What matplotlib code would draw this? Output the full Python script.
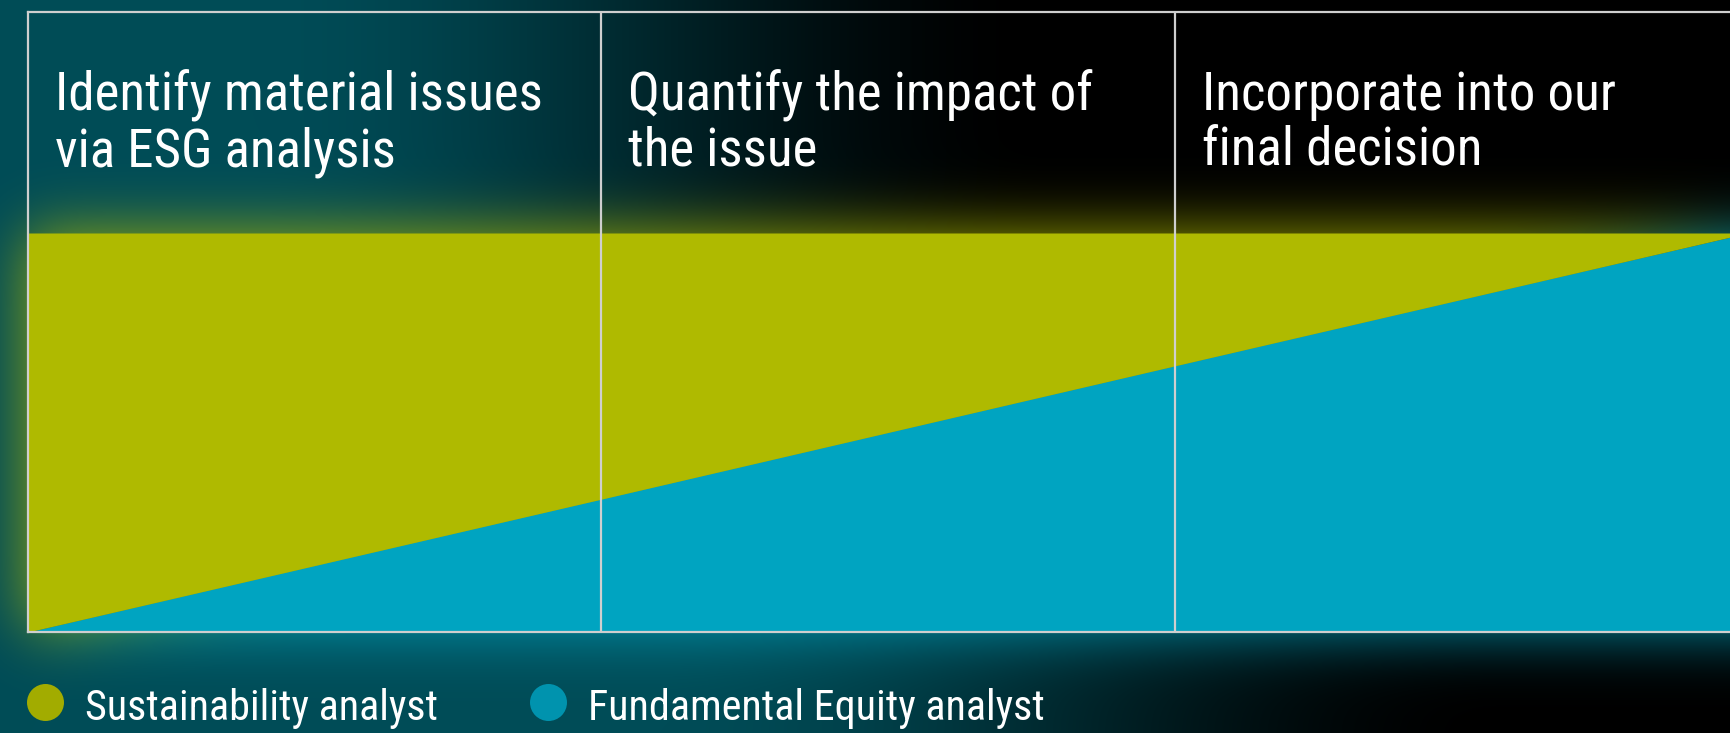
import numpy as np
import matplotlib
matplotlib.use("Agg")
from matplotlib import pyplot as plt
from matplotlib import font_manager as fm
from matplotlib import transforms

# chart content
stages = [
    "Identify material issues\nvia ESG analysis",
    "Quantify the impact of\nthe issue",
    "Incorporate into our\nfinal decision",
]
stage_edges = [0, 1, 2, 3]
fundamental_share = [0, 33.3, 66.7, 100]
sustainability_share = [100, 66.7, 33.3, 0]
series_labels = ["Sustainability analyst", "Fundamental Equity analyst"]

YELLOW = "#AFBA00"
BLUE = "#00A4C1"
LINE = "#CFCFCF"

W, H, DPI = 1731, 733, 100


def pick_font():
    entries = fm.fontManager.ttflist
    names = {f.name for f in entries}
    if "Roboto Condensed" in names:
        return dict(family="Roboto Condensed")
    if "Liberation Sans Narrow" in names:
        return dict(family="Liberation Sans Narrow")
    if any(f.name == "DejaVu Sans" and "condensed" in str(f.stretch) for f in entries):
        return dict(family="DejaVu Sans", stretch="condensed")
    return dict(family="Roboto")


def smoothstep(v, a, b):
    t = np.clip((v - a) / (b - a), 0, 1)
    return t * t * (3 - 2 * t)


def blur(img, sigma):
    pad = int(3 * sigma)
    p = np.pad(img, pad, mode="edge")
    fy = np.fft.fftfreq(p.shape[0])
    fx = np.fft.rfftfreq(p.shape[1])
    g = np.exp(-2 * (np.pi * sigma) ** 2 * (fy[:, None] ** 2 + fx[None, :] ** 2))
    out = np.fft.irfft2(np.fft.rfft2(p) * g, s=p.shape)
    return out[pad:-pad, pad:-pad]


def fit_size(fig, txt, target_px, size):
    r = fig.canvas.get_renderer()
    w = txt.get_window_extent(r).width
    return size * target_px / w


font = pick_font()

fig = plt.figure(figsize=(W / DPI, H / DPI), dpi=DPI, facecolor="black")
bg_ax = fig.add_axes([0, 0, 1, 1], zorder=0)
bg_ax.set_xlim(0, W)
bg_ax.set_ylim(H, 0)
bg_ax.axis("off")

# plot box: left 28px, top 12px, bottom 632px, runs past the right edge
ax = fig.add_axes([28 / W, (H - 632) / H, (1748 - 28) / W, 620 / H], zorder=1)
ax.set_facecolor("none")
ax.set_xlim(stage_edges[0], stage_edges[-1])
ax.set_ylim(0, 100 * 620 / 399)

top_share = np.add(fundamental_share, sustainability_share)
ax.fill_between(stage_edges, 0, fundamental_share, color=BLUE, lw=0, zorder=1)
ax.fill_between(stage_edges, fundamental_share, top_share, color=YELLOW, lw=0, zorder=1)
for x in stage_edges[1:-1]:
    ax.axvline(x, color=LINE, lw=1.6, zorder=3)
for side in ["left", "top", "bottom"]:
    ax.spines[side].set_color(LINE)
    ax.spines[side].set_linewidth(1.6)
    ax.spines[side].set_zorder(4)
ax.spines["right"].set_visible(False)
ax.set_xticks([])
ax.set_yticks([])

# background with glow around the filled shape
X, Y = np.meshgrid(np.arange(W) + 0.5, np.arange(H) + 0.5)
w_top = 1 - smoothstep(X, 250, 1050)
w_bot = 1 - smoothstep(X, 650, 1500)
s = smoothstep(Y, 200, 680)
w = w_top * (1 - s) + w_bot * s
bg = w[..., None] * (np.array([0, 76, 87]) / 255)

pts = np.column_stack([X.ravel(), H - Y.ravel()])
xd, yd = ax.transData.inverted().transform(pts).T
xd = xd.reshape(X.shape)
yd = yd.reshape(X.shape)
f_line = np.interp(xd, stage_edges, fundamental_share)
t_line = np.interp(xd, stage_edges, top_share)
inside = (xd >= stage_edges[0]) & (yd >= 0)
blue_m = (inside & (yd <= f_line)).astype(float)
yel_m = (inside & (yd > f_line) & (yd <= t_line)).astype(float)
a_y = np.clip(blur(yel_m, 30), 0, 1) * 0.85
a_b = np.clip(blur(blue_m, 30), 0, 1) * 0.85
yc = np.array(matplotlib.colors.to_rgb(YELLOW))
bc = np.array(matplotlib.colors.to_rgb(BLUE))
rgb = bg * (1 - a_y - a_b)[..., None] + yc * a_y[..., None] + bc * a_b[..., None]
bg_ax.imshow(np.clip(rgb, 0, 1), extent=(0, W, H, 0), aspect="auto", zorder=0)

# column headers
hdr_tr = transforms.blended_transform_factory(ax.transData, ax.transAxes)
size = 38
probe = ax.text(0, 0, stages[0].split("\n")[0], fontsize=size, **font)
size = fit_size(fig, probe, 488, size)
probe.remove()
for i, label in enumerate(stages):
    for j, line in enumerate(label.split("\n")):
        ax.text(stage_edges[i] + 0.047, (632 - (110 + 56 * j)) / 620, line,
                transform=hdr_tr, color="white", fontsize=size,
                va="baseline", ha="left", **font)

# legend
leg_x = [45, 548]
leg_colors = ["#A2AC00", "#0093AE"]
probe = bg_ax.text(0, 0, series_labels[0], fontsize=30, **font)
lsize = fit_size(fig, probe, 354, 30)
probe.remove()
for x, c, lab in zip(leg_x, leg_colors, series_labels):
    bg_ax.scatter([x], [702], s=(37 * 72 / DPI) ** 2, color=c, lw=0, zorder=2)
    bg_ax.text(x + 40, 720, lab, color="white", fontsize=lsize,
               va="baseline", ha="left", zorder=2, **font)

fig.savefig("out.png", dpi=DPI, facecolor="black")
